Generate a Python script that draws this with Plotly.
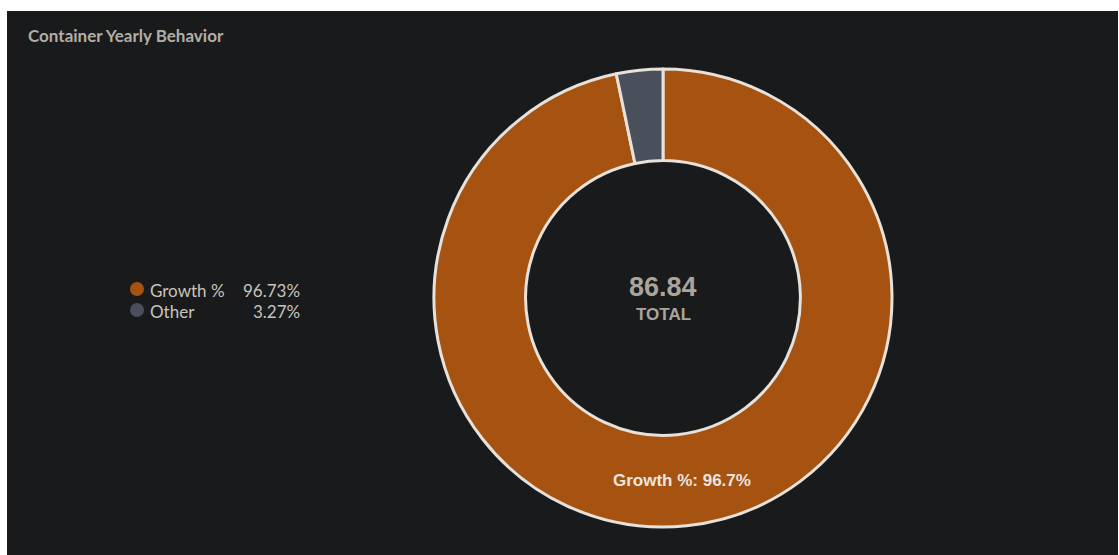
import math
import plotly.graph_objects as go

W, H = 1119, 555

labels = ["Growth %", "Other"]
values = [84.00, 2.84]
colors = ["#a65210", "#4a4f5c"]
legend_pcts = ["96.73%", "3.27%"]
total_text = "86.84"
title_text = "Container Yearly Behavior"

BG = "#191a1c"
TXT = "#c9c3bb"

def px_x(x):
    return x / W

def px_y(y):
    return 1 - y / H

cx, cy, R = 663, 298, 229
HOLE = 0.6

fig = go.Figure()
fig.add_trace(go.Pie(
    labels=labels,
    values=values,
    sort=False,
    direction="clockwise",
    rotation=0,
    hole=HOLE,
    marker=dict(colors=colors, line=dict(color="#e6e1da", width=3)),
    textinfo="none",
    hoverinfo="label+percent",
    showlegend=False,
    domain=dict(x=[px_x(cx - R), px_x(cx + R)], y=[px_y(cy + R), px_y(cy - R)]),
))

shapes = [dict(type="rect", xref="paper", yref="paper",
               x0=px_x(7), x1=px_x(1118), y0=0, y1=px_y(11),
               fillcolor=BG, line=dict(width=0), layer="below")]
annotations = [
    dict(text=title_text, x=px_x(26), y=px_y(35), xref="paper", yref="paper",
         xanchor="left", yanchor="middle", showarrow=False,
         font=dict(family="Lato", size=17, color="#b4ada5", weight="bold")),
    dict(text=total_text, x=px_x(cx), y=px_y(287), xref="paper", yref="paper",
         xanchor="center", yanchor="middle", showarrow=False,
         font=dict(family="Arial", size=27, color="#aba49c", weight="bold")),
    dict(text="TOTAL", x=px_x(cx), y=px_y(314), xref="paper", yref="paper",
         xanchor="center", yanchor="middle", showarrow=False,
         font=dict(family="Arial", size=17, color="#aba49c", weight="bold")),
]

# slice label for the largest slice, placed at the middle of its ring segment
tot = sum(values)
share = values[0] / tot
mid_angle = math.radians(share * 360 / 2)
r_mid = R * (1 + HOLE) / 2
lx = cx + r_mid * math.sin(mid_angle)
ly = cy - r_mid * math.cos(mid_angle)
annotations.append(dict(text=f"{labels[0]}: {share * 100:.1f}%", x=px_x(lx), y=px_y(ly),
                        xref="paper", yref="paper", xanchor="center", yanchor="middle",
                        showarrow=False,
                        font=dict(family="Arial", size=17, color="#ece6df", weight="bold")))

row_y = [289, 310]
for lab, pct, col, y in zip(labels, legend_pcts, colors, row_y):
    shapes.append(dict(type="circle", xref="paper", yref="paper",
                       x0=px_x(130), x1=px_x(144), y0=px_y(y + 7), y1=px_y(y - 7),
                       fillcolor=col, line=dict(width=0)))
    annotations.append(dict(text=lab, x=px_x(148), y=px_y(y + 1), xref="paper", yref="paper",
                            xanchor="left", yanchor="middle", showarrow=False,
                            font=dict(family="Lato", size=17, color=TXT)))
    annotations.append(dict(text=pct, x=px_x(302), y=px_y(y + 1), xref="paper", yref="paper",
                            xanchor="right", yanchor="middle", showarrow=False,
                            font=dict(family="Lato", size=17, color=TXT)))

fig.update_layout(
    width=W, height=H,
    margin=dict(l=0, r=0, t=0, b=0),
    paper_bgcolor="#ffffff",
    plot_bgcolor=BG,
    shapes=shapes,
    annotations=annotations,
)

fig.write_html("out.html")
